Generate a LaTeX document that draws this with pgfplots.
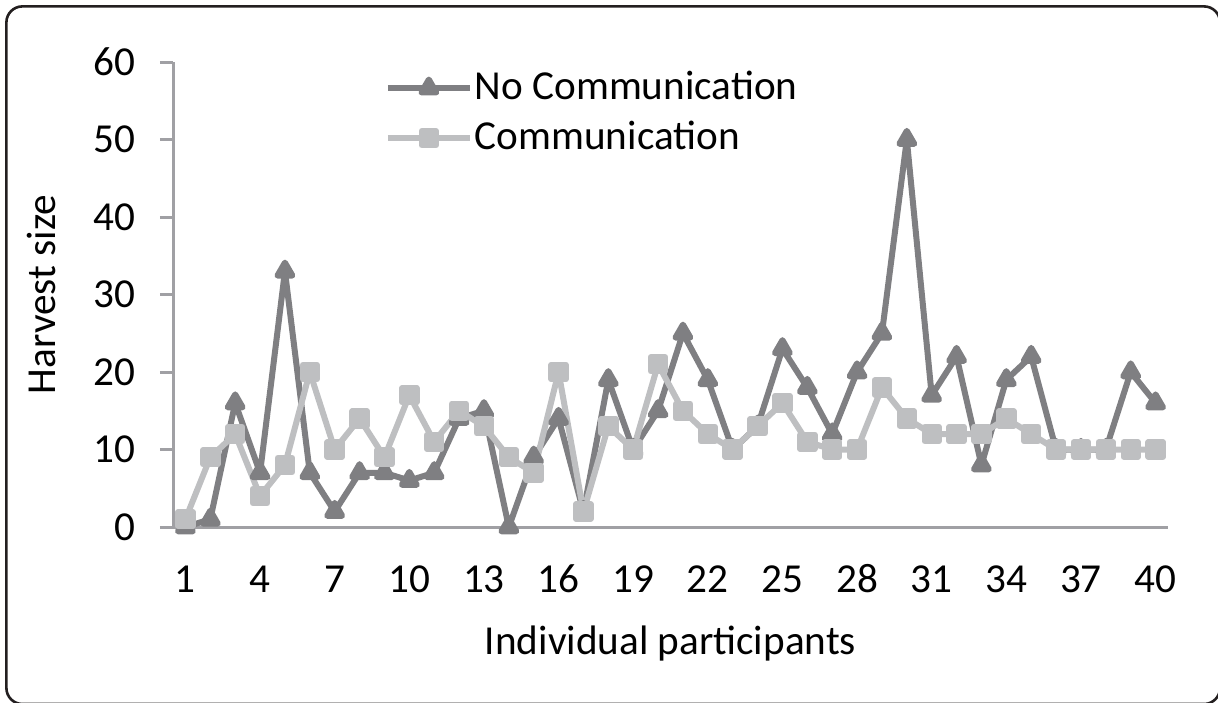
\documentclass[border=0pt]{standalone}
\usepackage{fontspec}
\setmainfont{Carlito}
\usepackage{pgfplots}
\pgfplotsset{compat=1.18}
\definecolor{darkser}{HTML}{7F7F82}
\definecolor{lightser}{HTML}{BEBFC1}
\definecolor{axgray}{HTML}{A0A0A4}
\definecolor{framec}{HTML}{231F20}
\begin{document}
\begin{tikzpicture}[font=\fontsize{20.6}{24}\selectfont]
\useasboundingbox (0,0) rectangle (609pt,-351pt);
\draw[framec, line width=1.3pt, rounded corners=8pt] (3.2pt,-3.2pt) rectangle (610pt,-352pt);
\begin{axis}[
  at={(86.5pt,-263.5pt)}, anchor=south west,
  scale only axis, width=497.5pt, height=232.5pt,
  xmin=0.5, xmax=40.5, ymin=0, ymax=60,
  xtick={1,4,...,40}, ytick={0,10,...,60},
  axis x line*=bottom, axis y line*=left,
  axis line style={axgray, line width=1.5pt},
  xtick style={draw=none},
  ytick style={axgray, line width=1.5pt},
  tick align=outside, major tick length=6.5pt,
  /pgf/number format/assume math mode=true,
  yticklabel style={anchor=east, inner sep=0pt, xshift=-12pt},
  xticklabel style={anchor=north, inner sep=0pt, yshift=-13pt, text height=13pt, text depth=0pt},
  xlabel={Individual participants},
  ylabel={Harvest size},
  xlabel style={at={(axis description cs:0.5,-0.2495)}, anchor=center},
  ylabel style={at={(axis description cs:-0.1317,0.5)}, anchor=center},
  legend style={at={(axis description cs:0.2125,0.89)}, anchor=west, draw=none, fill=none,
    inner sep=0pt, row sep=6pt, column sep=1pt,
    nodes={inner sep=0pt, text height=15pt, text depth=4pt}},
  legend cell align=left,
  legend image code/.code={\draw[mark repeat=2,mark phase=2] plot coordinates {(0pt,0pt) (20.5pt,0pt) (41pt,0pt)};},
  clip=false,
]
\addplot[darkser, line width=3pt, line join=round, mark=triangle*, mark size=4.3pt, mark options={solid}] coordinates {
(1,0) (2,1) (3,16) (4,7) (5,33) (6,7) (7,2) (8,7) (9,7) (10,6)
(11,7) (12,14) (13,15) (14,0) (15,9) (16,14) (17,2) (18,19) (19,10) (20,15)
(21,25) (22,19) (23,10) (24,13) (25,23) (26,18) (27,12) (28,20) (29,25) (30,50)
(31,17) (32,22) (33,8) (34,19) (35,22) (36,10) (37,10) (38,10) (39,20) (40,16)};
\addlegendentry{No Communication}
\addplot[lightser, line width=3pt, line join=round, mark=square*, mark size=3.6pt, mark options={solid}] coordinates {
(1,1) (2,9) (3,12) (4,4) (5,8) (6,20) (7,10) (8,14) (9,9) (10,17)
(11,11) (12,15) (13,13) (14,9) (15,7) (16,20) (17,2) (18,13) (19,10) (20,21)
(21,15) (22,12) (23,10) (24,13) (25,16) (26,11) (27,10) (28,10) (29,18) (30,14)
(31,12) (32,12) (33,12) (34,14) (35,12) (36,10) (37,10) (38,10) (39,10) (40,10)};
\addlegendentry{Communication}
\end{axis}
\end{tikzpicture}
\end{document}
